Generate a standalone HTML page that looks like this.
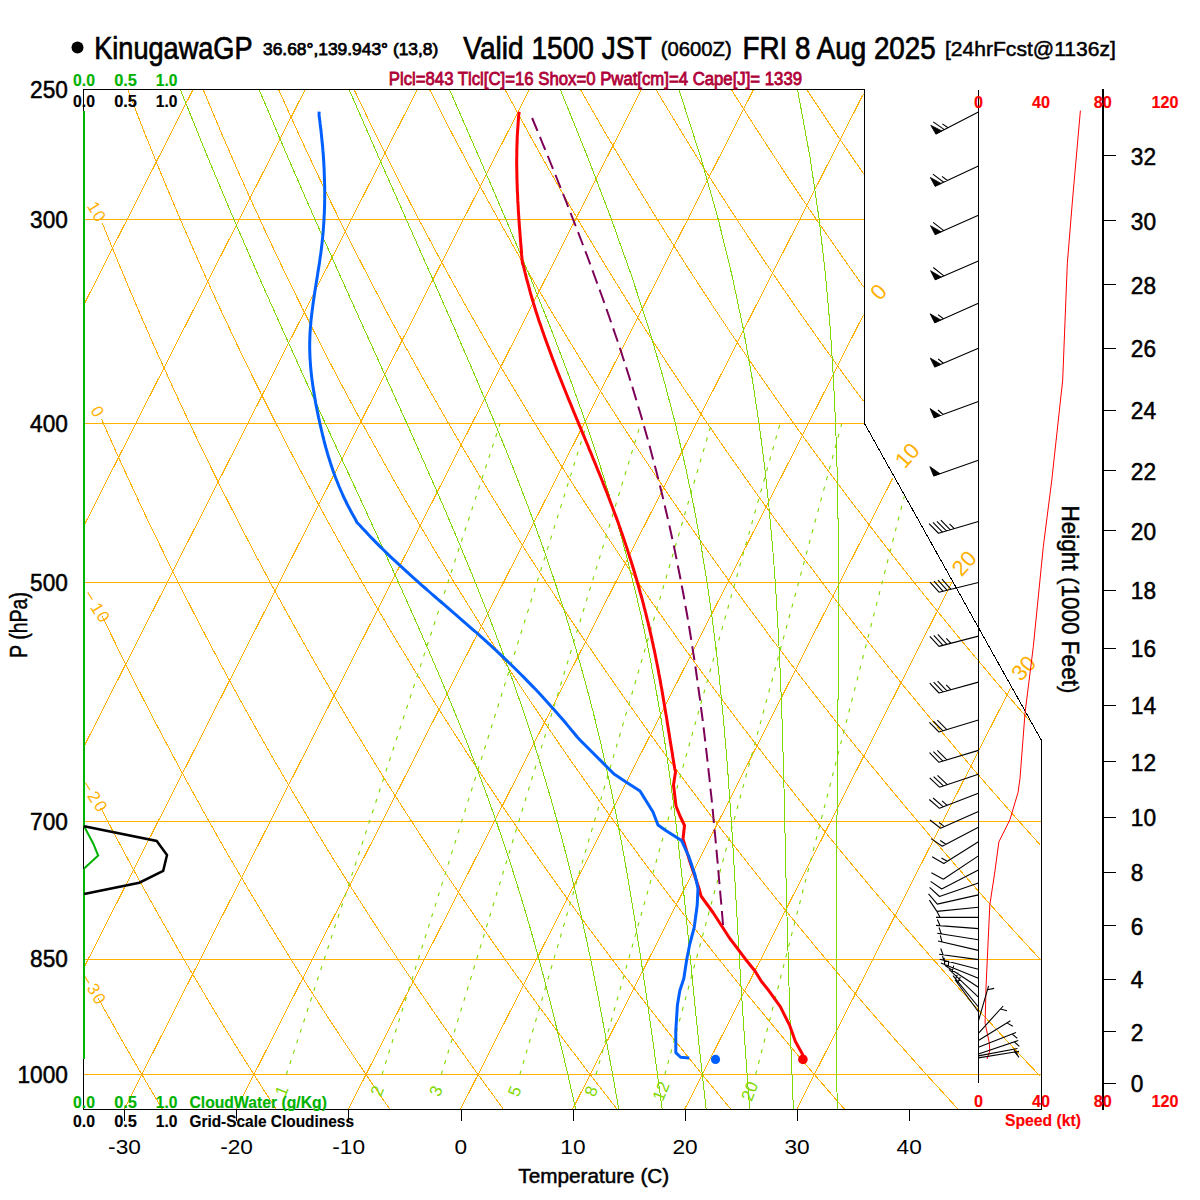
<!DOCTYPE html>
<html><head><meta charset="utf-8"><style>
html,body{margin:0;padding:0;background:#fff;width:1200px;height:1200px;overflow:hidden}
svg{position:absolute;left:0;top:0}
text{font-family:"Liberation Sans",sans-serif}
</style></head><body>
<svg width="1200" height="1200" viewBox="0 0 1200 1200">
<g shape-rendering="crispEdges" fill="none" stroke-width="1">
<path d="M83.7 1074.5 H1040.7" stroke="#ffb000"/>
<path d="M83.7 959.1 H1040.7" stroke="#ffb000"/>
<path d="M83.7 821.2 H1040.7" stroke="#ffb000"/>
<path d="M83.7 582.3 H952.5" stroke="#ffb000"/>
<path d="M83.7 423.8 H864.2" stroke="#ffb000"/>
<path d="M83.7 219.5 H864.2" stroke="#ffb000"/>
<path d="M84.5 303.5 L192.8 90.0" stroke="#ffb000"/>
<path d="M84.6 524.4 L304.9 90.0" stroke="#ffb000"/>
<path d="M84.6 745.3 L417.0 90.0" stroke="#ffb000"/>
<path d="M83.7 968.1 L529.1 90.0" stroke="#ffb000"/>
<path d="M124.2 1109.2 L641.2 90.0" stroke="#ffb000"/>
<path d="M236.3 1109.2 L753.3 90.0" stroke="#ffb000"/>
<path d="M348.4 1109.2 L863.5 93.7" stroke="#ffb000"/>
<path d="M460.5 1109.2 L863.6 314.6" stroke="#ffb000"/>
<path d="M572.6 1109.2 L892.8 478.0" stroke="#ffb000"/>
<path d="M684.7 1109.2 L952.1 581.9" stroke="#ffb000"/>
<path d="M796.8 1109.2 L1010.6 687.8" stroke="#ffb000"/>
<path d="M162.4 1109.2 L156.3 1099.0 L150.1 1088.6 L141.8 1074.5 L133.4 1060.2 L124.9 1045.5 L116.4 1030.6 L107.7 1015.3 L99.0 999.7 L98.1 998.0" stroke="#ffb000"/>
<path d="M276.1 1109.2 L267.3 1095.5 L258.4 1081.6 L249.4 1067.4 L240.3 1052.9 L231.1 1038.1 L221.9 1023.0 L214.8 1011.4 L207.8 999.7 L200.7 987.8 L193.5 975.6 L186.2 963.3 L178.9 950.7 L171.6 937.9 L164.2 924.9 L156.7 911.6 L149.1 898.1 L141.5 884.3 L133.8 870.2 L126.1 855.9 L118.3 841.2 L113.0 831.3 L107.7 821.2 L102.4 811.0 L100.8 808.0" stroke="#ffb000"/>
<path d="M389.8 1109.2 L380.3 1095.5 L370.8 1081.6 L361.2 1067.4 L351.4 1052.9 L341.6 1038.1 L331.7 1023.0 L324.1 1011.4 L316.6 999.7 L308.9 987.8 L301.2 975.6 L293.4 963.3 L285.6 950.7 L277.7 937.9 L269.7 924.9 L261.7 911.6 L253.6 898.1 L245.4 884.3 L237.1 870.2 L228.7 855.9 L220.3 841.2 L214.7 831.3 L209.0 821.2 L203.2 811.0 L197.5 800.6 L191.6 790.1 L185.8 779.4 L179.9 768.6 L171.0 752.0 L162.0 735.0 L155.9 723.5 L149.8 711.7 L143.7 699.8 L137.5 687.7 L131.2 675.3 L125.0 662.7 L118.6 649.9 L112.2 636.9 L105.8 623.6 L102.1 616.0" stroke="#ffb000"/>
<path d="M503.4 1109.2 L493.4 1095.5 L483.2 1081.6 L472.9 1067.4 L462.6 1052.9 L452.1 1038.1 L444.1 1026.8 L436.1 1015.3 L428.0 1003.6 L419.9 991.8 L411.7 979.7 L403.4 967.4 L395.1 954.9 L386.6 942.2 L378.1 929.3 L369.5 916.1 L360.9 902.6 L352.1 888.9 L343.3 874.9 L334.4 860.7 L328.4 851.0 L322.4 841.2 L316.3 831.3 L310.2 821.2 L304.1 811.0 L297.9 800.6 L288.5 784.8 L279.0 768.6 L269.5 752.0 L263.0 740.7 L256.5 729.3 L250.0 717.6 L243.4 705.8 L236.8 693.8 L230.1 681.5 L223.3 669.1 L216.6 656.4 L209.7 643.5 L202.8 630.3 L195.8 616.9 L188.8 603.2 L181.8 589.3 L174.6 575.1 L167.4 560.6 L160.2 545.8 L152.8 530.7 L145.4 515.3 L138.0 499.5 L130.5 483.3 L122.9 466.8 L115.2 449.9 L107.5 432.6 L101.5 419.0" stroke="#ffb000"/>
<path d="M617.1 1109.2 L606.4 1095.5 L595.6 1081.6 L584.7 1067.4 L573.7 1052.9 L565.3 1041.8 L556.9 1030.6 L548.4 1019.2 L539.9 1007.6 L531.2 995.8 L522.5 983.7 L513.7 971.5 L504.9 959.1 L495.9 946.5 L486.9 933.6 L477.8 920.5 L468.6 907.1 L459.3 893.5 L449.9 879.6 L440.5 865.5 L430.9 851.0 L421.2 836.3 L411.5 821.2 L401.6 805.8 L391.6 790.1 L381.5 774.0 L371.4 757.6 L364.5 746.4 L357.6 735.0 L350.6 723.5 L343.6 711.7 L336.5 699.8 L329.4 687.7 L322.2 675.3 L315.0 662.7 L307.7 649.9 L300.3 636.9 L292.9 623.6 L285.4 610.1 L277.8 596.3 L270.2 582.3 L262.5 567.9 L254.7 553.3 L246.9 538.3 L239.0 523.0 L231.0 507.4 L222.9 491.5 L214.8 475.1 L206.6 458.4 L198.3 441.3 L189.9 423.8 L181.4 405.8 L172.8 387.3 L164.2 368.4 L155.4 348.9 L146.6 328.9 L142.1 318.7 L137.7 308.4 L133.2 297.8 L128.6 287.2 L124.1 276.3 L119.5 265.3 L114.9 254.1 L110.2 242.7 L105.6 231.2 L102.5 223.5" stroke="#ffb000"/>
<path d="M730.8 1109.2 L719.5 1095.5 L708.0 1081.6 L696.5 1067.4 L684.8 1052.9 L676.0 1041.8 L667.0 1030.6 L658.1 1019.2 L649.0 1007.6 L639.8 995.8 L630.6 983.7 L618.2 967.4 L605.6 950.7 L596.0 937.9 L586.4 924.9 L576.7 911.6 L566.8 898.1 L556.9 884.3 L546.9 870.2 L536.8 855.9 L526.5 841.2 L516.2 826.3 L505.7 811.0 L495.2 795.4 L484.5 779.4 L473.7 763.1 L466.4 752.0 L459.1 740.7 L451.7 729.3 L444.2 717.6 L436.7 705.8 L429.2 693.8 L421.5 681.5 L413.8 669.1 L406.1 656.4 L398.2 643.5 L390.3 630.3 L382.4 616.9 L374.3 603.2 L366.2 589.3 L358.0 575.1 L349.8 560.6 L341.4 545.8 L333.0 530.7 L324.5 515.3 L315.9 499.5 L307.3 483.3 L298.5 466.8 L289.6 449.9 L280.7 432.6 L271.6 414.8 L262.5 396.6 L253.2 377.9 L243.9 358.7 L234.4 339.0 L229.7 328.9 L224.9 318.7 L220.0 308.4 L215.2 297.8 L210.3 287.2 L205.4 276.3 L200.5 265.3 L195.5 254.1 L190.5 242.7 L185.4 231.2 L180.4 219.5 L175.3 207.5 L170.2 195.4 L165.0 183.0 L159.8 170.5 L154.6 157.7 L149.3 144.6 L144.0 131.4 L138.7 117.8 L133.3 104.0 L127.9 90.0" stroke="#ffb000"/>
<path d="M844.5 1109.2 L832.5 1095.5 L820.5 1081.6 L808.3 1067.4 L799.0 1056.6 L786.6 1041.8 L774.0 1026.8 L761.3 1011.4 L748.4 995.8 L735.4 979.7 L722.2 963.3 L712.2 950.7 L702.1 937.9 L691.9 924.9 L681.6 911.6 L671.3 898.1 L660.8 884.3 L650.1 870.2 L639.4 855.9 L628.6 841.2 L617.6 826.3 L606.6 811.0 L595.4 795.4 L584.0 779.4 L576.4 768.6 L568.7 757.6 L561.0 746.4 L553.2 735.0 L545.3 723.5 L537.4 711.7 L529.4 699.8 L521.3 687.7 L513.2 675.3 L505.0 662.7 L496.7 649.9 L488.3 636.9 L479.9 623.6 L471.4 610.1 L462.8 596.3 L454.1 582.3 L445.4 567.9 L436.5 553.3 L427.6 538.3 L418.6 523.0 L409.5 507.4 L400.3 491.5 L391.0 475.1 L381.6 458.4 L372.1 441.3 L362.5 423.8 L352.8 405.8 L342.9 387.3 L333.0 368.4 L322.9 348.9 L317.9 339.0 L312.7 328.9 L307.6 318.7 L302.4 308.4 L297.2 297.8 L292.0 287.2 L286.7 276.3 L281.4 265.3 L276.1 254.1 L270.7 242.7 L265.3 231.2 L259.9 219.5 L254.4 207.5 L248.9 195.4 L243.3 183.0 L237.7 170.5 L232.1 157.7 L226.4 144.6 L220.7 131.4 L215.0 117.8 L209.2 104.0 L203.4 90.0" stroke="#ffb000"/>
<path d="M958.1 1109.2 L945.6 1095.5 L932.9 1081.6 L920.0 1067.4 L907.1 1052.9 L893.9 1038.1 L880.7 1023.0 L867.2 1007.6 L853.6 991.8 L839.9 975.6 L825.9 959.1 L815.3 946.5 L804.7 933.6 L793.9 920.5 L783.0 907.1 L772.0 893.5 L760.9 879.6 L749.6 865.5 L738.3 851.0 L726.8 836.3 L715.2 821.2 L703.5 805.8 L691.6 790.1 L683.6 779.4 L675.5 768.6 L667.4 757.6 L659.2 746.4 L646.8 729.3 L634.3 711.7 L625.8 699.8 L617.3 687.7 L608.7 675.3 L600.0 662.7 L591.2 649.9 L582.3 636.9 L573.4 623.6 L564.4 610.1 L555.3 596.3 L546.1 582.3 L536.8 567.9 L527.4 553.3 L518.0 538.3 L508.4 523.0 L498.7 507.4 L489.0 491.5 L479.1 475.1 L469.1 458.4 L459.0 441.3 L448.8 423.8 L443.6 414.8 L433.2 396.6 L422.7 377.9 L412.1 358.7 L406.7 348.9 L401.3 339.0 L395.8 328.9 L390.3 318.7 L384.8 308.4 L379.3 297.8 L373.7 287.2 L368.1 276.3 L362.4 265.3 L356.7 254.1 L351.0 242.7 L345.2 231.2 L339.4 219.5 L333.5 207.5 L327.6 195.4 L321.7 183.0 L315.7 170.5 L309.7 157.7 L303.6 144.6 L297.5 131.4 L291.3 117.8 L285.1 104.0 L278.8 90.0" stroke="#ffb000"/>
<path d="M1039.7 1075.7 L1025.0 1060.2 L1011.3 1045.5 L997.5 1030.6 L983.4 1015.3 L969.2 999.7 L954.8 983.7 L940.3 967.4 L929.2 954.9 L918.1 942.2 L906.8 929.3 L895.5 916.1 L884.0 902.6 L872.3 888.9 L860.6 874.9 L848.7 860.7 L836.7 846.1 L824.6 831.3 L812.4 816.1 L799.9 800.6 L787.4 784.8 L774.7 768.6 L761.8 752.0 L748.8 735.0 L735.6 717.6 L726.7 705.8 L717.7 693.8 L708.7 681.5 L699.6 669.1 L690.3 656.4 L681.0 643.5 L671.7 630.3 L662.2 616.9 L652.6 603.2 L643.0 589.3 L633.2 575.1 L623.3 560.6 L613.4 545.8 L603.3 530.7 L593.1 515.3 L582.8 499.5 L572.4 483.3 L561.9 466.8 L551.3 449.9 L540.5 432.6 L529.6 414.8 L518.6 396.6 L507.4 377.9 L501.8 368.4 L496.1 358.7 L490.4 348.9 L484.7 339.0 L478.9 328.9 L473.1 318.7 L467.2 308.4 L461.3 297.8 L455.4 287.2 L449.4 276.3 L443.4 265.3 L437.3 254.1 L431.2 242.7 L425.1 231.2 L418.9 219.5 L412.6 207.5 L406.4 195.4 L400.0 183.0 L393.6 170.5 L387.2 157.7 L380.7 144.6 L374.2 131.4 L367.6 117.8 L361.0 104.0 L354.3 90.0" stroke="#ffb000"/>
<path d="M1040.0 959.1 L1028.3 946.5 L1016.5 933.6 L1004.6 920.5 L992.6 907.1 L980.5 893.5 L968.2 879.6 L955.8 865.5 L943.2 851.0 L930.5 836.3 L917.7 821.2 L904.7 805.8 L891.6 790.1 L878.3 774.0 L864.8 757.6 L851.2 740.7 L837.4 723.5 L828.1 711.7 L818.7 699.8 L809.2 687.7 L799.6 675.3 L790.0 662.7 L780.2 649.9 L770.4 636.9 L760.5 623.6 L750.4 610.1 L740.3 596.3 L730.1 582.3 L719.7 567.9 L709.3 553.3 L698.7 538.3 L688.0 523.0 L677.2 507.4 L666.3 491.5 L655.3 475.1 L644.1 458.4 L632.8 441.3 L621.4 423.8 L609.8 405.8 L598.1 387.3 L592.2 377.9 L586.2 368.4 L580.2 358.7 L574.2 348.9 L568.1 339.0 L562.0 328.9 L555.8 318.7 L549.6 308.4 L543.4 297.8 L537.1 287.2 L530.7 276.3 L524.4 265.3 L517.9 254.1 L511.5 242.7 L505.0 231.2 L498.4 219.5 L491.8 207.5 L485.1 195.4 L478.4 183.0 L471.6 170.5 L464.8 157.7 L457.9 144.6 L450.9 131.4 L443.9 117.8 L436.9 104.0 L429.8 90.0" stroke="#ffb000"/>
<path d="M1040.2 844.9 L1027.9 831.3 L1014.4 816.1 L1000.8 800.6 L986.9 784.8 L972.9 768.6 L958.8 752.0 L944.4 735.0 L934.7 723.5 L924.9 711.7 L915.1 699.8 L905.1 687.7 L895.1 675.3 L885.0 662.7 L874.7 649.9 L864.4 636.9 L854.0 623.6 L843.4 610.1 L832.8 596.3 L822.0 582.3 L811.2 567.9 L800.2 553.3 L789.1 538.3 L777.9 523.0 L766.5 507.4 L755.0 491.5 L743.4 475.1 L731.6 458.4 L719.7 441.3 L707.7 423.8 L695.5 405.8 L683.1 387.3 L670.6 368.4 L657.9 348.9 L651.5 339.0 L645.0 328.9 L638.5 318.7 L632.0 308.4 L625.4 297.8 L618.8 287.2 L612.1 276.3 L605.3 265.3 L598.6 254.1 L591.7 242.7 L584.8 231.2 L577.9 219.5 L570.9 207.5 L563.8 195.4 L556.7 183.0 L549.5 170.5 L542.3 157.7 L535.0 144.6 L527.7 131.4 L520.3 117.8 L512.8 104.0 L505.2 90.0" stroke="#ffb000"/>
<path d="M1029.5 720.6 L1016.7 705.8 L1001.1 687.7 L990.6 675.3 L980.0 662.7 L969.3 649.9 L958.4 636.9 L947.5 623.6 L936.5 610.1 L925.3 596.3 L914.0 582.3 L902.6 567.9 L891.1 553.3 L879.4 538.3 L867.7 523.0 L855.8 507.4 L843.7 491.5 L831.5 475.1 L819.1 458.4 L806.6 441.3 L794.0 423.8 L781.2 405.8 L768.2 387.3 L755.0 368.4 L741.7 348.9 L734.9 339.0 L728.1 328.9 L721.3 318.7 L714.4 308.4 L707.5 297.8 L700.5 287.2 L693.4 276.3 L686.3 265.3 L679.2 254.1 L672.0 242.7 L664.7 231.2 L657.4 219.5 L650.0 207.5 L642.6 195.4 L635.1 183.0 L627.5 170.5 L619.9 157.7 L612.2 144.6 L604.4 131.4 L596.6 117.8 L588.7 104.0 L580.7 90.0" stroke="#ffb000"/>
<path d="M863.5 401.2 L853.2 387.3 L839.4 368.4 L825.4 348.9 L818.3 339.0 L811.2 328.9 L804.0 318.7 L796.8 308.4 L789.5 297.8 L782.2 287.2 L774.8 276.3 L767.3 265.3 L759.8 254.1 L752.2 242.7 L744.6 231.2 L736.9 219.5 L729.1 207.5 L721.3 195.4 L713.4 183.0 L705.4 170.5 L697.4 157.7 L689.3 144.6 L681.1 131.4 L672.9 117.8 L664.6 104.0 L656.2 90.0" stroke="#ffb000"/>
<path d="M863.8 287.2 L856.1 276.3 L848.3 265.3 L840.4 254.1 L832.5 242.7 L824.5 231.2 L816.4 219.5 L808.2 207.5 L800.0 195.4 L791.7 183.0 L783.4 170.5 L775.0 157.7 L766.5 144.6 L757.9 131.4 L749.2 117.8 L740.5 104.0 L731.6 90.0" stroke="#ffb000"/>
<path d="M863.5 173.6 L852.5 157.7 L843.6 144.6 L834.6 131.4 L825.5 117.8 L816.4 104.0 L807.1 90.0" stroke="#ffb000"/>
<path d="M837.3 1109.2 L837.0 1092.1 L836.8 1074.5 L836.6 1056.6 L836.5 1038.1 L836.3 999.7 L836.4 959.1 L836.5 916.1 L836.7 870.2 L836.9 846.1 L837.1 795.4 L838.2 681.5 L838.4 649.9 L838.5 616.9 L838.5 582.3 L838.3 545.8 L837.9 507.4 L837.0 466.8 L835.6 423.8 L833.4 377.9 L830.3 328.9 L825.6 276.3 L819.2 219.5 L810.1 157.7 L797.6 90.0" stroke="#80d800"/>
<path d="M793.4 1109.2 L792.7 1092.1 L792.0 1074.5 L790.6 1038.1 L789.4 999.7 L787.0 916.1 L786.4 893.5 L785.8 870.2 L785.3 846.1 L784.2 795.4 L783.5 768.6 L782.7 740.7 L781.8 711.7 L780.6 681.5 L779.2 649.9 L777.4 616.9 L775.3 582.3 L772.5 545.8 L769.0 507.4 L764.7 466.8 L759.1 423.8 L752.1 377.9 L743.3 328.9 L732.2 276.3 L718.3 219.5 L700.8 157.7 L679.1 90.0" stroke="#80d800"/>
<path d="M749.8 1109.2 L748.4 1092.1 L747.1 1074.5 L744.5 1038.1 L741.9 999.7 L740.6 979.7 L738.2 937.9 L734.3 870.2 L732.9 846.1 L731.3 821.2 L729.5 795.4 L727.6 768.6 L725.3 740.7 L722.7 711.7 L719.7 681.5 L716.2 649.9 L712.0 616.9 L707.0 582.3 L701.1 545.8 L694.0 507.4 L685.5 466.8 L675.4 423.8 L663.3 377.9 L648.9 328.9 L631.7 276.3 L611.5 219.5 L587.9 157.7 L560.5 90.0" stroke="#80d800"/>
<path d="M706.1 1109.2 L700.3 1056.6 L698.3 1038.1 L694.4 999.7 L688.3 937.9 L686.1 916.1 L683.8 893.5 L681.3 870.2 L678.6 846.1 L675.7 821.2 L672.4 795.4 L668.7 768.6 L664.6 740.7 L659.9 711.7 L654.5 681.5 L648.4 649.9 L641.4 616.9 L633.2 582.3 L623.8 545.8 L613.0 507.4 L600.5 466.8 L586.2 423.8 L569.7 377.9 L551.0 328.9 L529.8 276.3 L505.9 219.5 L479.3 157.7 L449.7 90.0" stroke="#80d800"/>
<path d="M662.2 1109.2 L655.0 1056.6 L649.8 1019.2 L647.0 999.7 L640.9 959.1 L637.6 937.9 L634.2 916.1 L630.5 893.5 L626.5 870.2 L622.2 846.1 L617.4 821.2 L612.3 795.4 L606.5 768.6 L600.2 740.7 L593.1 711.7 L585.1 681.5 L576.2 649.9 L566.2 616.9 L555.0 582.3 L542.4 545.8 L528.4 507.4 L512.7 466.8 L495.2 423.8 L475.9 377.9 L454.7 328.9 L431.5 276.3 L378.9 157.7 L349.3 90.0" stroke="#80d800"/>
<path d="M618.8 1109.2 L612.6 1074.5 L609.3 1056.6 L602.4 1019.2 L598.7 999.7 L594.8 979.7 L590.6 959.1 L586.1 937.9 L581.2 916.1 L575.8 893.5 L570.1 870.2 L563.9 846.1 L557.2 821.2 L549.9 795.4 L541.9 768.6 L533.2 740.7 L523.6 711.7 L513.1 681.5 L501.7 649.9 L489.1 616.9 L475.3 582.3 L460.2 545.8 L443.9 507.4 L426.1 466.8 L407.0 423.8 L386.3 377.9 L364.1 328.9 L340.4 276.3 L315.0 219.5 L288.0 157.7 L259.3 90.0" stroke="#80d800"/>
<path d="M575.7 1109.2 L571.8 1092.1 L567.8 1074.5 L563.6 1056.6 L559.1 1038.1 L554.5 1019.2 L549.6 999.7 L544.4 979.7 L538.9 959.1 L533.0 937.9 L526.7 916.1 L519.9 893.5 L512.6 870.2 L504.7 846.1 L496.2 821.2 L487.0 795.4 L477.0 768.6 L466.2 740.7 L454.5 711.7 L441.9 681.5 L428.4 649.9 L413.9 616.9 L398.4 582.3 L381.8 545.8 L364.2 507.4 L325.5 423.8 L304.4 377.9 L282.2 328.9 L258.7 276.3 L233.9 219.5 L207.9 157.7 L180.5 90.0" stroke="#80d800"/>
</g>
<path d="M755.7 1074.5 L904.3 496.3" stroke="#80d800" stroke-width="1.1" fill="none" stroke-dasharray="4 7"/>
<path d="M664.9 1074.5 L841.7 423.8" stroke="#80d800" stroke-width="1.1" fill="none" stroke-dasharray="4 7"/>
<path d="M596.0 1074.5 L780.0 423.8" stroke="#80d800" stroke-width="1.1" fill="none" stroke-dasharray="4 7"/>
<path d="M519.9 1074.5 L711.4 423.8" stroke="#80d800" stroke-width="1.1" fill="none" stroke-dasharray="4 7"/>
<path d="M441.3 1074.5 L640.6 423.8" stroke="#80d800" stroke-width="1.1" fill="none" stroke-dasharray="4 7"/>
<path d="M382.0 1074.5 L586.9 423.8" stroke="#80d800" stroke-width="1.1" fill="none" stroke-dasharray="4 7"/>
<path d="M286.4 1074.5 L500.0 423.8" stroke="#80d800" stroke-width="1.1" fill="none" stroke-dasharray="4 7"/>
<path d="M83.5 1109.5 L1041.5 1109.5 L1041.5 740.5 L864.5 423.5 L864.5 89.5 L83.5 89.5 Z" stroke="#000" stroke-width="1" fill="none" shape-rendering="crispEdges"/>
<text x="0" y="0" font-family="Liberation Serif" font-size="22.0" fill="#ffb000" text-anchor="middle" dominant-baseline="central" transform="translate(878.4 291.9) rotate(-48.0)">0</text>
<text x="0" y="0" font-family="Liberation Serif" font-size="22.0" fill="#ffb000" text-anchor="middle" dominant-baseline="central" transform="translate(907.3 455.5) rotate(-48.0)">10</text>
<text x="0" y="0" font-family="Liberation Serif" font-size="22.0" fill="#ffb000" text-anchor="middle" dominant-baseline="central" transform="translate(964.1 563.3) rotate(-48.0)">20</text>
<text x="0" y="0" font-family="Liberation Serif" font-size="22.0" fill="#ffb000" text-anchor="middle" dominant-baseline="central" transform="translate(1023.6 668.2) rotate(-48.0)">30</text>
<text x="0" y="0" font-family="Liberation Serif" font-size="17.0" fill="#ffb000" text-anchor="middle" dominant-baseline="central" transform="translate(93.6 207.2) rotate(58.0)">1</text>
<text x="0" y="0" font-family="Liberation Serif" font-size="17.0" fill="#ffb000" text-anchor="middle" dominant-baseline="central" transform="translate(98.9 216.4) rotate(58.0)">0</text>
<text x="0" y="0" font-family="Liberation Serif" font-size="17.0" fill="#ffb000" text-anchor="middle" dominant-baseline="central" transform="translate(97.1 411.5) rotate(58.0)">0</text>
<path d="M87.7 592.4 L92.3 599.6" stroke="#ffb000" stroke-width="1.1"/>
<text x="0" y="0" font-family="Liberation Serif" font-size="17.0" fill="#ffb000" text-anchor="middle" dominant-baseline="central" transform="translate(96.9 608.3) rotate(58.0)">1</text>
<text x="0" y="0" font-family="Liberation Serif" font-size="17.0" fill="#ffb000" text-anchor="middle" dominant-baseline="central" transform="translate(102.9 616.9) rotate(58.0)">0</text>
<path d="M85.3 782.7 L89.9 789.9" stroke="#ffb000" stroke-width="1.1"/>
<text x="0" y="0" font-family="Liberation Serif" font-size="17.0" fill="#ffb000" text-anchor="middle" dominant-baseline="central" transform="translate(94.0 796.8) rotate(58.0)">2</text>
<text x="0" y="0" font-family="Liberation Serif" font-size="17.0" fill="#ffb000" text-anchor="middle" dominant-baseline="central" transform="translate(100.3 806.3) rotate(58.0)">0</text>
<path d="M84.4 975.9 L89.0 983.1" stroke="#ffb000" stroke-width="1.1"/>
<text x="0" y="0" font-family="Liberation Serif" font-size="17.0" fill="#ffb000" text-anchor="middle" dominant-baseline="central" transform="translate(93.3 989.0) rotate(58.0)">3</text>
<text x="0" y="0" font-family="Liberation Serif" font-size="17.0" fill="#ffb000" text-anchor="middle" dominant-baseline="central" transform="translate(98.9 998.8) rotate(58.0)">0</text>
<text x="0" y="0" font-family="Liberation Serif" font-size="17.0" fill="#80d800" text-anchor="middle" dominant-baseline="central" transform="translate(282.0 1091.0) rotate(-68.0)">1</text>
<text x="0" y="0" font-family="Liberation Serif" font-size="17.0" fill="#80d800" text-anchor="middle" dominant-baseline="central" transform="translate(377.4 1091.0) rotate(-68.0)">2</text>
<text x="0" y="0" font-family="Liberation Serif" font-size="17.0" fill="#80d800" text-anchor="middle" dominant-baseline="central" transform="translate(436.1 1091.0) rotate(-68.0)">3</text>
<text x="0" y="0" font-family="Liberation Serif" font-size="17.0" fill="#80d800" text-anchor="middle" dominant-baseline="central" transform="translate(515.0 1091.3) rotate(-68.0)">5</text>
<text x="0" y="0" font-family="Liberation Serif" font-size="17.0" fill="#80d800" text-anchor="middle" dominant-baseline="central" transform="translate(591.3 1091.3) rotate(-68.0)">8</text>
<text x="0" y="0" font-family="Liberation Serif" font-size="17.0" fill="#80d800" text-anchor="middle" dominant-baseline="central" transform="translate(661.3 1091.3) rotate(-68.0)">12</text>
<text x="0" y="0" font-family="Liberation Serif" font-size="17.0" fill="#80d800" text-anchor="middle" dominant-baseline="central" transform="translate(750.0 1091.3) rotate(-68.0)">20</text>
<path d="M124.5 1109 V1121" stroke="#000" stroke-width="1" shape-rendering="crispEdges"/>
<text x="124.5" y="1154.3" font-size="21" text-anchor="middle" fill="#000" textLength="32.8" lengthAdjust="spacingAndGlyphs">-30</text>
<path d="M236.5 1109 V1121" stroke="#000" stroke-width="1" shape-rendering="crispEdges"/>
<text x="236.6" y="1154.3" font-size="21" text-anchor="middle" fill="#000" textLength="32.8" lengthAdjust="spacingAndGlyphs">-20</text>
<path d="M348.5 1109 V1121" stroke="#000" stroke-width="1" shape-rendering="crispEdges"/>
<text x="348.7" y="1154.3" font-size="21" text-anchor="middle" fill="#000" textLength="32.8" lengthAdjust="spacingAndGlyphs">-10</text>
<path d="M461.5 1109 V1121" stroke="#000" stroke-width="1" shape-rendering="crispEdges"/>
<text x="460.8" y="1154.3" font-size="21" text-anchor="middle" fill="#000" textLength="12.6" lengthAdjust="spacingAndGlyphs">0</text>
<path d="M573.5 1109 V1121" stroke="#000" stroke-width="1" shape-rendering="crispEdges"/>
<text x="572.9" y="1154.3" font-size="21" text-anchor="middle" fill="#000" textLength="25.2" lengthAdjust="spacingAndGlyphs">10</text>
<path d="M685.5 1109 V1121" stroke="#000" stroke-width="1" shape-rendering="crispEdges"/>
<text x="685.0" y="1154.3" font-size="21" text-anchor="middle" fill="#000" textLength="25.2" lengthAdjust="spacingAndGlyphs">20</text>
<path d="M797.5 1109 V1121" stroke="#000" stroke-width="1" shape-rendering="crispEdges"/>
<text x="797.1" y="1154.3" font-size="21" text-anchor="middle" fill="#000" textLength="25.2" lengthAdjust="spacingAndGlyphs">30</text>
<path d="M909.5 1109 V1121" stroke="#000" stroke-width="1" shape-rendering="crispEdges"/>
<text x="909.2" y="1154.3" font-size="21" text-anchor="middle" fill="#000" textLength="25.2" lengthAdjust="spacingAndGlyphs">40</text>
<text x="518.30" y="1182.50" font-size="20.30" font-weight="normal" fill="#000" stroke="#000" stroke-width="0.50" textLength="150.90" lengthAdjust="spacingAndGlyphs">Temperature (C)</text>
<text x="30.10" y="98.27" font-size="23.30" font-weight="normal" fill="#000" stroke="#000" stroke-width="0.50" textLength="37.77" lengthAdjust="spacingAndGlyphs">250</text>
<text x="30.10" y="227.76" font-size="23.30" font-weight="normal" fill="#000" stroke="#000" stroke-width="0.50" textLength="37.77" lengthAdjust="spacingAndGlyphs">300</text>
<text x="30.10" y="432.08" font-size="23.30" font-weight="normal" fill="#000" stroke="#000" stroke-width="0.50" textLength="37.77" lengthAdjust="spacingAndGlyphs">400</text>
<text x="30.10" y="590.56" font-size="23.30" font-weight="normal" fill="#000" stroke="#000" stroke-width="0.50" textLength="37.77" lengthAdjust="spacingAndGlyphs">500</text>
<text x="30.10" y="829.52" font-size="23.30" font-weight="normal" fill="#000" stroke="#000" stroke-width="0.50" textLength="37.77" lengthAdjust="spacingAndGlyphs">700</text>
<text x="30.10" y="967.41" font-size="23.30" font-weight="normal" fill="#000" stroke="#000" stroke-width="0.50" textLength="37.77" lengthAdjust="spacingAndGlyphs">850</text>
<text x="17.50" y="1082.84" font-size="23.30" font-weight="normal" fill="#000" stroke="#000" stroke-width="0.50" textLength="50.39" lengthAdjust="spacingAndGlyphs">1000</text>
<g transform="rotate(-90 27 658)"><text x="27.00" y="658.00" font-size="23.00" font-weight="normal" fill="#000" stroke="#000" stroke-width="0.50" textLength="66.04" lengthAdjust="spacingAndGlyphs">P (hPa)</text></g>
<text x="73.00" y="86.00" font-size="16.50" font-weight="bold" fill="#00b200" stroke="#00b200" stroke-width="0.15" textLength="22.00" lengthAdjust="spacingAndGlyphs">0.0</text>
<text x="73.00" y="106.80" font-size="16.50" font-weight="bold" fill="#000" stroke="#000" stroke-width="0.15" textLength="22.00" lengthAdjust="spacingAndGlyphs">0.0</text>
<text x="73.00" y="1108.00" font-size="16.50" font-weight="bold" fill="#00b200" stroke="#00b200" stroke-width="0.15" textLength="22.00" lengthAdjust="spacingAndGlyphs">0.0</text>
<text x="73.00" y="1126.70" font-size="16.50" font-weight="bold" fill="#000" stroke="#000" stroke-width="0.15" textLength="22.00" lengthAdjust="spacingAndGlyphs">0.0</text>
<text x="114.20" y="86.00" font-size="16.50" font-weight="bold" fill="#00b200" stroke="#00b200" stroke-width="0.15" textLength="22.80" lengthAdjust="spacingAndGlyphs">0.5</text>
<text x="114.20" y="106.80" font-size="16.50" font-weight="bold" fill="#000" stroke="#000" stroke-width="0.15" textLength="22.80" lengthAdjust="spacingAndGlyphs">0.5</text>
<text x="114.20" y="1108.00" font-size="16.50" font-weight="bold" fill="#00b200" stroke="#00b200" stroke-width="0.15" textLength="22.80" lengthAdjust="spacingAndGlyphs">0.5</text>
<text x="114.20" y="1126.70" font-size="16.50" font-weight="bold" fill="#000" stroke="#000" stroke-width="0.15" textLength="22.80" lengthAdjust="spacingAndGlyphs">0.5</text>
<text x="155.80" y="86.00" font-size="16.50" font-weight="bold" fill="#00b200" stroke="#00b200" stroke-width="0.15" textLength="21.70" lengthAdjust="spacingAndGlyphs">1.0</text>
<text x="155.80" y="106.80" font-size="16.50" font-weight="bold" fill="#000" stroke="#000" stroke-width="0.15" textLength="21.70" lengthAdjust="spacingAndGlyphs">1.0</text>
<text x="155.80" y="1108.00" font-size="16.50" font-weight="bold" fill="#00b200" stroke="#00b200" stroke-width="0.15" textLength="21.70" lengthAdjust="spacingAndGlyphs">1.0</text>
<text x="155.80" y="1126.70" font-size="16.50" font-weight="bold" fill="#000" stroke="#000" stroke-width="0.15" textLength="21.70" lengthAdjust="spacingAndGlyphs">1.0</text>
<text x="189.40" y="1108.00" font-size="16.50" font-weight="bold" fill="#00b200" stroke="#00b200" stroke-width="0.15" textLength="137.59" lengthAdjust="spacingAndGlyphs">CloudWater (g/Kg)</text>
<text x="189.40" y="1126.70" font-size="16.50" font-weight="bold" fill="#000" stroke="#000" stroke-width="0.15" textLength="164.59" lengthAdjust="spacingAndGlyphs">Grid-Scale Cloudiness</text>
<path d="M84 111 V826 M84 868.6 V1058.8" stroke="#00b200" stroke-width="2" shape-rendering="crispEdges"/>
<path d="M84.1 826.3 L93.3 843.7 L98.2 855.6 L84.1 868.6" stroke="#00b200" stroke-width="2" fill="none"/>
<path d="M84.1 826.3 L156.7 841 L167 855 L163.2 870.8 L139.3 882.7 L84.1 894" stroke="#000" stroke-width="2.5" fill="none"/>
<circle cx="77.5" cy="47.5" r="6" fill="#000"/>
<text x="94.20" y="58.80" font-size="30.50" font-weight="normal" fill="#000" stroke="#000" stroke-width="0.70" textLength="158.36" lengthAdjust="spacingAndGlyphs">KinugawaGP</text>
<text x="263.00" y="55.00" font-size="16.80" font-weight="normal" fill="#000" stroke="#000" stroke-width="0.75" textLength="175.30" lengthAdjust="spacingAndGlyphs">36.68°,139.943° (13,8)</text>
<text x="463.30" y="58.80" font-size="30.50" font-weight="normal" fill="#000" stroke="#000" stroke-width="0.70" textLength="188.34" lengthAdjust="spacingAndGlyphs">Valid 1500 JST</text>
<text x="660.80" y="56.00" font-size="20.00" font-weight="normal" fill="#000" stroke="#000" stroke-width="0.50" textLength="70.93" lengthAdjust="spacingAndGlyphs">(0600Z)</text>
<text x="742.50" y="58.80" font-size="30.50" font-weight="normal" fill="#000" stroke="#000" stroke-width="0.70" textLength="193.28" lengthAdjust="spacingAndGlyphs">FRI 8 Aug 2025</text>
<text x="945.00" y="56.00" font-size="21.00" font-weight="normal" fill="#000" stroke="#000" stroke-width="0.50" textLength="170.83" lengthAdjust="spacingAndGlyphs">[24hrFcst@1136z]</text>
<text x="388.80" y="85.00" font-size="18.20" font-weight="normal" fill="#b00038" stroke="#b00038" stroke-width="0.80" textLength="413.21" lengthAdjust="spacingAndGlyphs">Plcl=843 Tlcl[C]=16 Shox=0 Pwat[cm]=4 Cape[J]= 1339</text>
<path d="M532.1 118.0 L534.6 124.0 L537.1 130.0 L539.6 136.0 L542.0 142.0 L544.5 148.0 L547.0 154.0 L549.4 160.0 L551.8 166.0 L554.3 172.0 L556.7 178.0 L559.1 184.0 L561.5 190.0 L563.9 196.0 L566.3 202.0 L568.6 208.0 L571.0 214.0 L573.3 220.0 L575.7 226.0 L578.0 232.0 L580.3 238.0 L582.6 244.0 L584.9 250.0 L587.2 256.0 L589.4 262.0 L591.6 268.0 L593.8 274.0 L596.0 280.0 L598.2 286.0 L600.4 292.0 L602.6 298.0 L604.7 304.0 L606.8 310.0 L608.9 316.0 L611.0 322.0 L613.1 328.0 L615.1 334.0 L617.2 340.0 L619.2 346.0 L621.2 352.0 L623.1 358.0 L625.1 364.0 L627.0 370.0 L628.9 376.0 L630.8 382.0 L632.7 388.0 L634.5 394.0 L636.3 400.0 L638.1 406.0 L639.9 412.0 L641.7 418.0 L643.4 424.0 L645.1 430.0 L646.8 436.0 L648.5 442.0 L650.1 448.0 L651.7 454.0 L653.3 460.0 L654.9 466.0 L656.5 472.0 L658.0 478.0 L659.5 484.0 L661.0 490.0 L662.5 496.0 L663.9 502.0 L665.3 508.0 L666.7 514.0 L668.1 520.0 L669.5 526.0 L670.8 532.0 L672.1 538.0 L673.4 544.0 L674.7 550.0 L675.9 556.0 L677.1 562.0 L678.3 568.0 L679.5 574.0 L680.7 580.0 L681.8 586.0 L683.0 592.0 L684.1 598.0 L685.1 604.0 L686.2 610.0 L687.3 616.0 L688.3 622.0 L689.3 628.0 L690.3 634.0 L691.3 640.0 L692.2 646.0 L693.1 652.0 L694.1 658.0 L695.0 664.0 L695.9 670.0 L696.7 676.0 L697.6 682.0 L698.4 688.0 L699.2 694.0 L700.1 700.0 L700.8 706.0 L701.6 712.0 L702.4 718.0 L703.1 724.0 L703.9 730.0 L704.6 736.0 L705.3 742.0 L706.0 748.0 L706.7 754.0 L707.4 760.0 L708.1 766.0 L708.7 772.0 L709.4 778.0 L710.0 784.0 L710.6 790.0 L711.3 796.0 L711.9 802.0 L712.5 808.0 L713.1 814.0 L713.6 820.0 L714.2 826.0 L714.8 832.0 L715.4 838.0 L715.9 844.0 L716.5 850.0 L717.0 856.0 L717.6 862.0 L718.1 868.0 L718.6 874.0 L719.1 880.0 L719.7 886.0 L720.2 892.0 L720.7 898.0 L721.3 904.0 L721.8 910.0 L722.3 916.0 L722.8 922.0 L723.3 927.5" stroke="#7d0058" stroke-width="2" fill="none" stroke-dasharray="14 6.5"/>
<path d="M519.2 111.7 L518.8 114.7 L518.5 117.6 L518.3 120.6 L518.1 123.6 L517.9 126.6 L517.7 129.5 L517.5 132.5 L517.3 135.5 L517.2 138.5 L517.1 141.4 L517.0 144.4 L516.9 147.4 L516.8 150.3 L516.8 153.3 L516.8 156.3 L516.7 159.3 L516.7 162.2 L516.7 165.2 L516.8 168.2 L516.8 171.2 L516.9 174.1 L516.9 177.1 L517.0 180.1 L517.1 183.0 L517.2 186.0 L517.3 189.0 L517.4 192.0 L517.6 194.9 L517.7 197.9 L517.8 200.9 L518.0 203.8 L518.2 206.8 L518.3 209.8 L518.5 212.8 L518.7 215.7 L518.9 218.7 L519.1 221.7 L519.3 224.7 L519.5 227.6 L519.8 230.6 L520.0 233.6 L520.2 236.5 L520.4 239.5 L520.7 242.5 L520.9 245.5 L521.2 248.4 L521.4 251.4 L521.6 254.4 L521.9 257.4 L522.1 260.3 L522.5 263.3 L522.5 263.3 L523.6 266.3 L524.3 269.3 L525.0 272.3 L525.8 275.3 L526.5 278.3 L527.3 281.3 L528.1 284.2 L528.9 287.2 L529.7 290.2 L530.5 293.2 L531.4 296.2 L532.3 299.2 L533.2 302.2 L534.1 305.2 L535.0 308.2 L535.9 311.2 L536.9 314.2 L537.9 317.2 L538.8 320.2 L539.8 323.1 L540.9 326.1 L541.9 329.1 L542.9 332.1 L544.0 335.1 L545.0 338.1 L546.1 341.1 L547.2 344.1 L548.3 347.1 L549.4 350.1 L550.5 353.1 L551.6 356.1 L552.7 359.1 L553.9 362.0 L555.0 365.0 L556.2 368.0 L557.3 371.0 L558.5 374.0 L559.7 377.0 L560.9 380.0 L562.1 383.0 L563.3 386.0 L564.5 389.0 L565.7 392.0 L566.9 395.0 L568.1 398.0 L569.3 400.9 L570.6 403.9 L571.8 406.9 L573.0 409.9 L574.2 412.9 L575.5 415.9 L576.7 418.9 L578.0 421.9 L579.2 424.9 L580.5 427.9 L581.7 430.9 L582.9 433.9 L584.2 436.9 L585.4 439.8 L586.7 442.8 L587.9 445.8 L589.1 448.8 L590.4 451.8 L591.6 454.8 L592.8 457.8 L594.1 460.8 L595.3 463.8 L596.5 466.8 L597.7 469.8 L599.0 472.8 L600.2 475.8 L601.4 478.7 L602.6 481.7 L603.7 484.7 L604.9 487.7 L606.1 490.7 L607.3 493.7 L608.4 496.7 L609.6 499.7 L610.7 502.7 L611.9 505.7 L613.0 508.7 L614.1 511.7 L615.2 514.7 L616.3 517.6 L617.4 520.6 L618.5 523.6 L619.5 526.6 L620.6 529.6 L621.6 532.6 L622.7 535.6 L623.7 538.6 L624.7 541.6 L625.7 544.6 L626.7 547.6 L627.7 550.6 L628.6 553.6 L629.6 556.6 L630.5 559.5 L631.5 562.5 L632.4 565.5 L633.3 568.5 L634.2 571.5 L635.1 574.5 L636.0 577.5 L636.9 580.5 L637.7 583.5 L638.6 586.5 L639.4 589.5 L640.2 592.5 L641.1 595.5 L641.9 598.4 L642.7 601.4 L643.5 604.4 L644.2 607.4 L645.0 610.4 L645.8 613.4 L646.5 616.4 L647.2 619.4 L648.0 622.4 L648.7 625.4 L649.4 628.4 L650.1 631.4 L650.8 634.4 L651.5 637.3 L652.1 640.3 L652.8 643.3 L653.4 646.3 L654.1 649.3 L654.7 652.3 L655.3 655.3 L655.9 658.3 L656.5 661.3 L657.1 664.3 L657.7 667.3 L658.3 670.3 L658.8 673.3 L659.4 676.2 L660.0 679.2 L660.5 682.2 L661.0 685.2 L661.6 688.2 L662.1 691.2 L662.6 694.2 L663.1 697.2 L663.6 700.2 L664.1 703.2 L664.6 706.2 L665.1 709.2 L665.6 712.2 L666.1 715.1 L666.6 718.1 L667.1 721.1 L667.5 724.1 L668.0 727.1 L668.5 730.1 L669.0 733.1 L669.5 736.1 L669.9 739.1 L670.4 742.1 L670.9 745.1 L671.4 748.1 L671.9 751.1 L672.4 754.0 L672.8 757.0 L673.3 760.0 L673.8 763.0 L674.3 766.0 L674.8 769.0 L675.5 772.0 L673.5 785.0 L676.0 806.0 L680.0 816.0 L684.5 825.5 L683.0 839.0 L690.0 862.0 L699.5 890.0 L701.0 896.0 L713.0 912.5 L729.5 938.0 L745.5 959.2 L755.0 971.0 L761.3 981.3 L767.7 989.2 L780.3 1006.7 L789.8 1025.7 L795.4 1041.5 L802.5 1054.2 L802.8 1058.9" stroke="#ff0000" stroke-width="3" fill="none" stroke-linejoin="round"/>
<path d="M319.2 111.7 L319.0 114.7 L319.4 117.7 L319.8 120.7 L320.1 123.7 L320.5 126.7 L320.9 129.7 L321.2 132.7 L321.5 135.7 L321.8 138.7 L322.1 141.7 L322.4 144.7 L322.7 147.7 L322.9 150.7 L323.2 153.7 L323.4 156.7 L323.6 159.7 L323.8 162.7 L323.9 165.7 L324.1 168.7 L324.2 171.7 L324.3 174.7 L324.4 177.7 L324.5 180.7 L324.6 183.7 L324.7 186.7 L324.7 189.7 L324.7 192.7 L324.7 195.7 L324.7 198.7 L324.6 201.7 L324.6 204.7 L324.5 207.7 L324.4 210.7 L324.3 213.7 L324.1 216.6 L324.0 219.6 L323.8 222.6 L323.6 225.6 L323.4 228.6 L323.2 231.6 L322.9 234.6 L322.6 237.6 L322.3 240.6 L322.0 243.6 L321.6 246.6 L321.3 249.6 L320.9 252.6 L320.5 255.6 L320.0 258.6 L319.6 261.6 L319.2 264.6 L318.7 267.6 L318.2 270.6 L317.7 273.6 L317.3 276.6 L316.8 279.6 L316.3 282.6 L315.8 285.6 L315.3 288.6 L314.9 291.6 L314.4 294.6 L314.0 297.6 L313.5 300.6 L313.1 303.6 L312.7 306.6 L312.3 309.6 L311.9 312.6 L311.6 315.6 L311.2 318.6 L310.9 321.6 L310.7 324.6 L310.4 327.6 L310.2 330.6 L310.0 333.6 L309.9 336.6 L309.8 339.6 L309.7 342.6 L309.7 345.6 L309.7 348.6 L309.8 351.6 L309.9 354.6 L310.0 357.6 L310.2 360.6 L310.4 363.6 L310.6 366.6 L310.9 369.6 L311.2 372.6 L311.5 375.6 L311.9 378.6 L312.3 381.6 L312.7 384.6 L313.1 387.6 L313.6 390.6 L314.1 393.6 L314.6 396.6 L315.1 399.6 L315.6 402.6 L316.2 405.6 L316.8 408.6 L317.4 411.6 L318.0 414.6 L318.6 417.6 L319.3 420.5 L319.9 423.5 L320.6 426.5 L321.3 429.5 L322.0 432.5 L322.7 435.5 L323.5 438.5 L324.2 441.5 L325.0 444.5 L325.8 447.5 L326.7 450.5 L327.5 453.5 L328.4 456.5 L329.4 459.5 L330.3 462.5 L331.3 465.5 L332.3 468.5 L333.3 471.5 L334.4 474.5 L335.5 477.5 L336.7 480.5 L337.9 483.5 L339.1 486.5 L340.4 489.5 L341.7 492.5 L343.0 495.5 L344.4 498.5 L345.9 501.5 L347.3 504.5 L348.9 507.5 L350.5 510.5 L352.1 513.5 L353.8 516.5 L355.5 519.5 L357.0 522.5 L357.0 522.5 L360.0 525.5 L362.7 528.5 L365.5 531.4 L368.3 534.4 L371.1 537.4 L374.0 540.4 L376.9 543.4 L379.9 546.3 L382.9 549.3 L386.0 552.3 L389.1 555.3 L392.2 558.3 L395.3 561.2 L398.5 564.2 L401.8 567.2 L405.0 570.2 L408.3 573.2 L411.6 576.1 L414.9 579.1 L418.3 582.1 L421.6 585.1 L425.0 588.0 L428.4 591.0 L431.8 594.0 L435.3 597.0 L438.7 600.0 L442.2 602.9 L445.6 605.9 L449.1 608.9 L452.5 611.9 L456.0 614.9 L459.4 617.8 L462.8 620.8 L466.3 623.8 L469.7 626.8 L473.1 629.8 L476.5 632.7 L479.8 635.7 L483.2 638.7 L486.5 641.7 L489.8 644.7 L493.0 647.6 L496.3 650.6 L499.4 653.6 L502.6 656.6 L505.7 659.6 L508.8 662.5 L511.9 665.5 L515.0 668.5 L518.0 671.5 L521.0 674.5 L523.9 677.4 L526.8 680.4 L529.7 683.4 L532.6 686.4 L535.5 689.3 L538.3 692.3 L541.1 695.3 L543.8 698.3 L546.5 701.3 L549.2 704.2 L551.9 707.2 L554.6 710.2 L557.2 713.2 L559.8 716.2 L562.3 719.1 L564.9 722.1 L567.4 725.1 L569.9 728.1 L572.3 731.1 L574.8 734.0 L577.2 737.0 L580.0 740.0 L590.0 750.0 L614.0 774.0 L626.0 782.0 L640.0 791.0 L653.0 812.0 L658.0 825.0 L665.0 830.0 L681.5 840.5 L689.0 857.0 L695.0 875.0 L698.0 888.5 L697.2 905.0 L694.2 927.5 L689.8 944.0 L686.8 959.0 L683.8 978.5 L679.8 990.8 L677.4 1005.1 L675.8 1030.4 L675.8 1052.6 L680.6 1057.3 L689.3 1058.1" stroke="#0060ff" stroke-width="3" fill="none" stroke-linejoin="round"/>
<circle cx="802.9" cy="1059.4" r="4.8" fill="#ff0000"/>
<circle cx="715.5" cy="1059.4" r="4.6" fill="#0060ff"/>
<path d="M978.4 90 V1083" stroke="#000" stroke-width="1" shape-rendering="crispEdges"/>
<path d="M1103 89 V1110" stroke="#000" stroke-width="2" shape-rendering="crispEdges"/>
<path d="M1104 1083.5 H1116" stroke="#000" stroke-width="1" shape-rendering="crispEdges"/>
<text x="1130.80" y="1092.19" font-size="23.60" font-weight="normal" fill="#000" stroke="#000" stroke-width="0.50" textLength="12.63" lengthAdjust="spacingAndGlyphs">0</text>
<path d="M1104 1031.5 H1116" stroke="#000" stroke-width="1" shape-rendering="crispEdges"/>
<text x="1130.80" y="1040.50" font-size="23.60" font-weight="normal" fill="#000" stroke="#000" stroke-width="0.50" textLength="12.63" lengthAdjust="spacingAndGlyphs">2</text>
<path d="M1104 979.5 H1116" stroke="#000" stroke-width="1" shape-rendering="crispEdges"/>
<text x="1130.80" y="988.09" font-size="23.60" font-weight="normal" fill="#000" stroke="#000" stroke-width="0.50" textLength="12.63" lengthAdjust="spacingAndGlyphs">4</text>
<path d="M1104 925.5 H1116" stroke="#000" stroke-width="1" shape-rendering="crispEdges"/>
<text x="1130.80" y="934.93" font-size="23.60" font-weight="normal" fill="#000" stroke="#000" stroke-width="0.50" textLength="12.63" lengthAdjust="spacingAndGlyphs">6</text>
<path d="M1104 872.5 H1116" stroke="#000" stroke-width="1" shape-rendering="crispEdges"/>
<text x="1130.80" y="881.00" font-size="23.60" font-weight="normal" fill="#000" stroke="#000" stroke-width="0.50" textLength="12.63" lengthAdjust="spacingAndGlyphs">8</text>
<path d="M1104 817.5 H1116" stroke="#000" stroke-width="1" shape-rendering="crispEdges"/>
<text x="1130.80" y="826.28" font-size="23.60" font-weight="normal" fill="#000" stroke="#000" stroke-width="0.50" textLength="25.25" lengthAdjust="spacingAndGlyphs">10</text>
<path d="M1104 761.5 H1116" stroke="#000" stroke-width="1" shape-rendering="crispEdges"/>
<text x="1130.80" y="770.75" font-size="23.60" font-weight="normal" fill="#000" stroke="#000" stroke-width="0.50" textLength="25.25" lengthAdjust="spacingAndGlyphs">12</text>
<path d="M1104 705.5 H1116" stroke="#000" stroke-width="1" shape-rendering="crispEdges"/>
<text x="1130.80" y="714.38" font-size="23.60" font-weight="normal" fill="#000" stroke="#000" stroke-width="0.50" textLength="25.25" lengthAdjust="spacingAndGlyphs">14</text>
<path d="M1104 648.5 H1116" stroke="#000" stroke-width="1" shape-rendering="crispEdges"/>
<text x="1130.80" y="657.15" font-size="23.60" font-weight="normal" fill="#000" stroke="#000" stroke-width="0.50" textLength="25.25" lengthAdjust="spacingAndGlyphs">16</text>
<path d="M1104 590.5 H1116" stroke="#000" stroke-width="1" shape-rendering="crispEdges"/>
<text x="1130.80" y="599.02" font-size="23.60" font-weight="normal" fill="#000" stroke="#000" stroke-width="0.50" textLength="25.25" lengthAdjust="spacingAndGlyphs">18</text>
<path d="M1104 530.5 H1116" stroke="#000" stroke-width="1" shape-rendering="crispEdges"/>
<text x="1130.80" y="539.98" font-size="23.60" font-weight="normal" fill="#000" stroke="#000" stroke-width="0.50" textLength="25.25" lengthAdjust="spacingAndGlyphs">20</text>
<path d="M1104 470.5 H1116" stroke="#000" stroke-width="1" shape-rendering="crispEdges"/>
<text x="1130.80" y="479.98" font-size="23.60" font-weight="normal" fill="#000" stroke="#000" stroke-width="0.50" textLength="25.25" lengthAdjust="spacingAndGlyphs">22</text>
<path d="M1104 410.5 H1116" stroke="#000" stroke-width="1" shape-rendering="crispEdges"/>
<text x="1130.80" y="419.01" font-size="23.60" font-weight="normal" fill="#000" stroke="#000" stroke-width="0.50" textLength="25.25" lengthAdjust="spacingAndGlyphs">24</text>
<path d="M1104 348.5 H1116" stroke="#000" stroke-width="1" shape-rendering="crispEdges"/>
<text x="1130.80" y="357.02" font-size="23.60" font-weight="normal" fill="#000" stroke="#000" stroke-width="0.50" textLength="25.25" lengthAdjust="spacingAndGlyphs">26</text>
<path d="M1104 284.5 H1116" stroke="#000" stroke-width="1" shape-rendering="crispEdges"/>
<text x="1130.80" y="293.99" font-size="23.60" font-weight="normal" fill="#000" stroke="#000" stroke-width="0.50" textLength="25.25" lengthAdjust="spacingAndGlyphs">28</text>
<path d="M1104 220.5 H1116" stroke="#000" stroke-width="1" shape-rendering="crispEdges"/>
<text x="1130.80" y="229.87" font-size="23.60" font-weight="normal" fill="#000" stroke="#000" stroke-width="0.50" textLength="25.25" lengthAdjust="spacingAndGlyphs">30</text>
<path d="M1104 155.5 H1116" stroke="#000" stroke-width="1" shape-rendering="crispEdges"/>
<text x="1130.80" y="164.64" font-size="23.60" font-weight="normal" fill="#000" stroke="#000" stroke-width="0.50" textLength="25.25" lengthAdjust="spacingAndGlyphs">32</text>
<g transform="rotate(90 1062 505.5)"><text x="1062.00" y="505.50" font-size="24.50" font-weight="normal" fill="#000" stroke="#000" stroke-width="0.50" textLength="187.96" lengthAdjust="spacingAndGlyphs">Height (1000 Feet)</text></g>
<text x="974.00" y="108.00" font-size="16.50" font-weight="bold" fill="#ff0000" stroke="#ff0000" stroke-width="0.15" textLength="9.02" lengthAdjust="spacingAndGlyphs">0</text>
<text x="974.00" y="1107.40" font-size="16.50" font-weight="bold" fill="#ff0000" stroke="#ff0000" stroke-width="0.15" textLength="9.02" lengthAdjust="spacingAndGlyphs">0</text>
<text x="1032.00" y="108.00" font-size="16.50" font-weight="bold" fill="#ff0000" stroke="#ff0000" stroke-width="0.15" textLength="18.04" lengthAdjust="spacingAndGlyphs">40</text>
<text x="1032.00" y="1107.40" font-size="16.50" font-weight="bold" fill="#ff0000" stroke="#ff0000" stroke-width="0.15" textLength="18.04" lengthAdjust="spacingAndGlyphs">40</text>
<text x="1093.80" y="108.00" font-size="16.50" font-weight="bold" fill="#ff0000" stroke="#ff0000" stroke-width="0.15" textLength="18.04" lengthAdjust="spacingAndGlyphs">80</text>
<text x="1093.80" y="1107.40" font-size="16.50" font-weight="bold" fill="#ff0000" stroke="#ff0000" stroke-width="0.15" textLength="18.04" lengthAdjust="spacingAndGlyphs">80</text>
<text x="1151.50" y="108.00" font-size="16.50" font-weight="bold" fill="#ff0000" stroke="#ff0000" stroke-width="0.15" textLength="26.98" lengthAdjust="spacingAndGlyphs">120</text>
<text x="1151.50" y="1107.40" font-size="16.50" font-weight="bold" fill="#ff0000" stroke="#ff0000" stroke-width="0.15" textLength="26.98" lengthAdjust="spacingAndGlyphs">120</text>
<text x="1005.00" y="1126.00" font-size="16.00" font-weight="bold" fill="#ff0000" stroke="#ff0000" stroke-width="0.15" textLength="75.99" lengthAdjust="spacingAndGlyphs">Speed (kt)</text>
<path d="M1080.4 110.6 L1072.5 200.0 L1067.3 263.7 L1062.7 380.0 L1051.8 480.0 L1043.3 546.7 L1033.3 646.7 L1025.0 713.3 L1020.0 778.3 L1018.1 792.2 L1009.9 819.8 L998.9 841.8 L994.8 872.0 L989.8 905.0 L987.9 946.3 L986.0 987.5 L985.1 1023.3 L989.2 1042.5 L989.8 1050.8 L987.0 1059.0" stroke="#ff0000" stroke-width="1" fill="none"/>
<path d="M978.40 112.00 L935.80 134.00 M944.33 129.59 L933.23 121.91 M947.97 127.71 L942.42 123.87 M978.40 165.90 L935.00 186.30 M943.69 182.22 L932.88 174.12 M947.40 180.47 L942.00 176.43 M978.40 215.20 L935.00 234.60 M943.76 230.68 L933.11 222.39 M978.40 261.00 L935.00 279.70 M943.82 275.90 L933.28 267.46 M978.40 303.20 L934.60 322.70 M943.37 318.80 L938.05 314.64 M978.40 348.30 L934.60 367.00 M943.43 363.23 L938.17 358.99 M978.40 401.40 L934.00 417.80 M943.01 414.47 L937.97 409.98 M978.40 460.30 L933.60 475.90 M978.40 521.50 L938.50 533.25 M938.50 533.25 L929.05 523.61 M942.43 532.09 L932.99 522.45 M946.37 530.93 L936.92 521.29 M950.30 529.78 L940.85 520.13 M954.23 528.62 L949.51 523.80 M978.40 582.50 L939.00 592.20 M939.00 592.20 L930.00 582.14 M942.98 591.22 L933.98 581.16 M946.96 590.24 L937.96 580.18 M950.94 589.26 L941.94 579.20 M978.40 636.10 L939.00 646.40 M939.00 646.40 L929.85 636.47 M942.97 645.36 L933.82 635.43 M946.93 644.33 L937.79 634.40 M950.90 643.29 L946.33 638.32 M978.40 682.10 L939.00 693.00 M939.00 693.00 L929.71 683.20 M942.95 691.91 L933.66 682.11 M946.90 690.81 L937.62 681.02 M950.85 689.72 L946.21 684.82 M978.40 720.00 L939.00 732.00 M939.00 732.00 L929.46 722.44 M942.92 730.81 L933.39 721.25 M946.84 729.61 L937.31 720.05 M978.40 750.40 L939.00 762.30 M939.00 762.30 L929.49 752.72 M942.92 761.11 L933.41 751.54 M946.85 759.93 L937.34 750.35 M978.40 774.20 L939.50 787.20 M939.50 787.20 L929.71 777.90 M943.39 785.90 L933.60 776.60 M947.28 784.60 L937.49 775.30 M978.40 793.20 L939.50 808.30 M939.50 808.30 L929.28 799.48 M943.32 806.82 L933.10 798.00 M947.14 805.33 L942.03 800.92 M978.40 811.50 L940.60 828.30 M940.60 828.30 L929.97 819.98 M944.35 826.63 L939.03 822.48 M978.40 827.20 L942.20 846.20 M942.20 846.20 L931.05 838.59 M945.83 844.29 L940.25 840.49 M978.40 841.80 L943.80 863.50 M943.80 863.50 L932.10 856.77 M947.27 861.32 L941.42 857.96 M978.40 855.90 L943.30 879.20 M943.30 879.20 L931.43 872.77 M978.40 870.00 L941.70 889.00 M941.70 889.00 L930.59 881.33 M978.40 883.00 L939.50 896.50 M939.50 896.50 L929.60 887.32 M978.40 894.90 L937.30 904.10 M937.30 904.10 L928.51 893.85 M978.40 907.30 L936.90 911.40 M936.90 911.40 L929.42 900.16 M978.40 917.40 L936.00 917.40 M940.10 917.40 L936.93 911.44 M978.40 928.60 L936.00 925.40 M940.09 925.71 L937.38 919.53 M978.40 939.70 L937.20 933.30 M941.25 933.93 L939.03 927.55 M978.40 950.40 L938.00 941.00 M941.99 941.93 L940.26 935.41 M978.40 959.60 L939.00 954.30 M943.06 954.85 L940.72 948.52 M978.40 969.20 L939.70 959.30 M943.67 960.32 L942.08 953.76 M978.40 978.30 L941.00 963.00 M944.79 964.55 L944.12 957.84 M978.40 987.20 L944.70 965.30 M948.14 967.53 L948.73 960.81 M978.40 997.20 L949.00 969.30 M951.97 972.12 L953.78 965.62 M978.40 1007.00 L953.00 975.70 M955.58 978.88 L958.21 972.67 M978.40 1011.70 L955.00 979.70 M957.42 983.01 L960.36 976.93 M978.40 1021.00 L988.60 985.80 M987.46 989.74 L994.07 988.35 M978.40 1033.30 L1003.20 1006.00 M1000.44 1009.03 L1006.99 1010.70 M978.40 1040.50 L1010.40 1020.70 M1006.91 1022.86 L1012.74 1026.26 M978.40 1047.20 L1016.00 1032.50 M1012.18 1033.99 L1017.30 1038.39 M978.40 1053.90 L1018.30 1040.50 M1014.41 1041.81 L1019.31 1046.45 M978.40 1055.90 L1017.50 1048.50 M1013.47 1049.26 L1017.69 1054.53 M978.40 1057.90 L1019.00 1051.40 M1014.95 1052.05 L1019.02 1057.43" stroke="#000" stroke-width="1.1" fill="none"/>
<path d="M935.80 134.00 L930.77 125.34 L941.84 130.88 Z M935.00 186.30 L930.29 177.46 L941.15 183.41 Z M935.00 234.60 L930.46 225.67 L941.21 231.82 Z M935.00 279.70 L930.58 270.71 L941.24 277.01 Z M934.60 322.70 L930.08 313.77 L940.81 319.93 Z M934.60 367.00 L930.21 358.00 L940.85 364.33 Z M934.00 417.80 L930.07 408.59 L940.38 415.44 Z M933.60 475.90 L929.84 466.62 L940.02 473.66 Z" fill="#000" stroke="#000" stroke-width="0.8"/>
</svg></body></html>
